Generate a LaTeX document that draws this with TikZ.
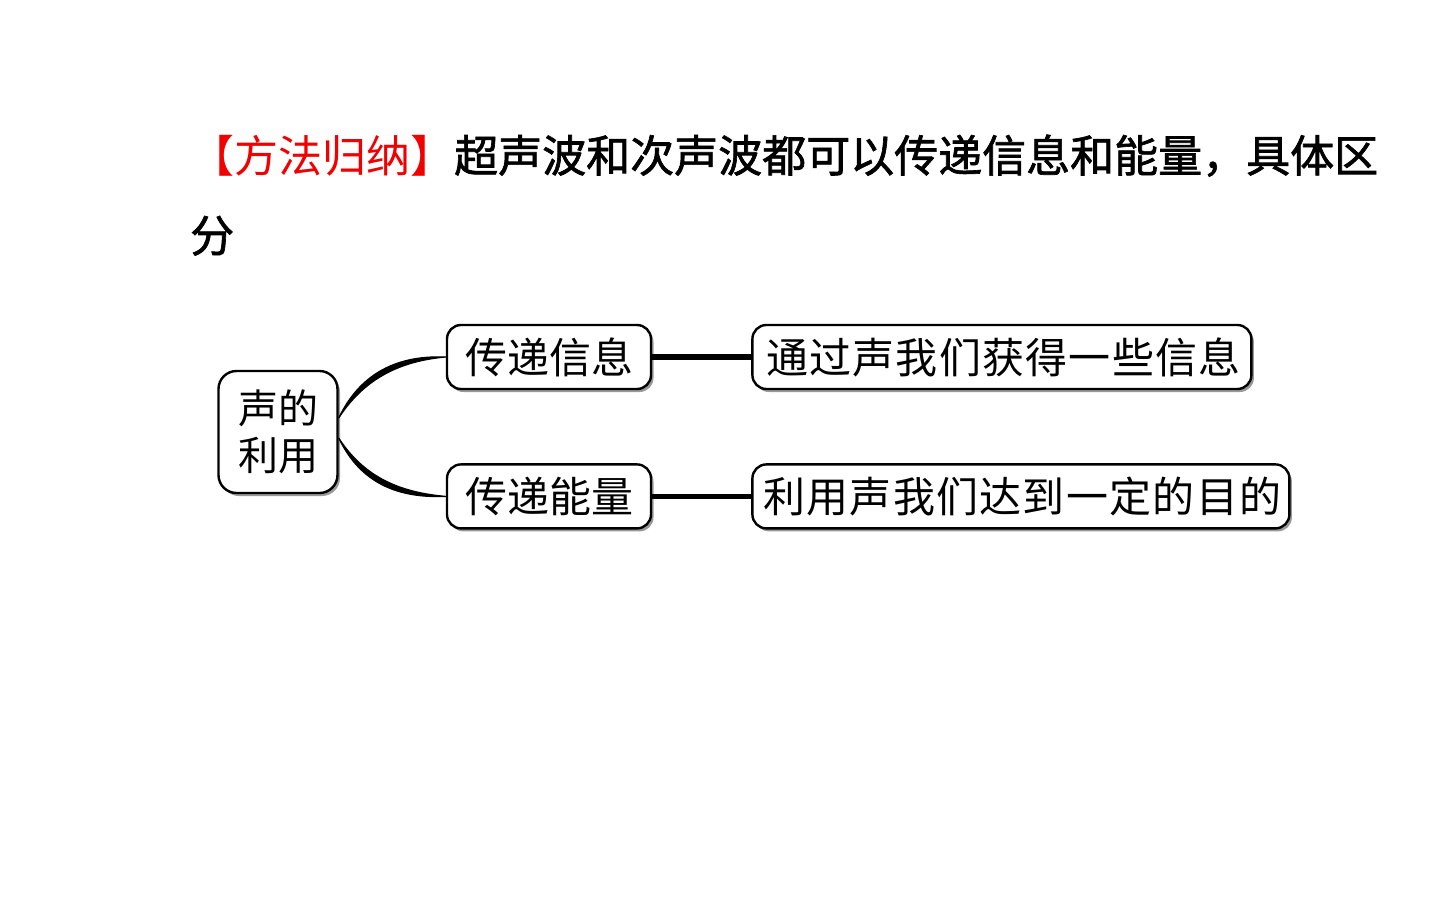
\documentclass[tikz,border=0pt]{standalone}
\usepackage{fontspec}
\usepackage{tikz}
\usetikzlibrary{positioning, shadows}
\setmainfont{Noto Sans CJK SC}
\newfontfamily\cjk{Noto Sans CJK SC}
\newfontfamily\cjkwide[LetterSpace=3]{Noto Sans CJK SC}
\newfontfamily\cjkbold[FakeBold=1.5]{Noto Sans CJK SC}
\definecolor{titlered}{RGB}{240,0,0}

\begin{document}
\begin{tikzpicture}[x=1pt, y=-1pt,
    box/.style={draw, line width=2.4pt, rounded corners=14pt, fill=white, inner sep=0pt, minimum height=64pt,
        drop shadow={shadow xshift=2.5pt, shadow yshift=-3pt, fill=black, opacity=0.4}},
    link/.style={line width=5.5pt},
    branch/.style={fill=black, draw=black, line width=1.2pt}]
    \fill[white] (0,0) rectangle (1440,900);
    \useasboundingbox (0,0) rectangle (1440,900);
    % heading
    \node (title) [anchor=base west, inner sep=0pt, font=\fontsize{44}{44}\selectfont] at (190,172)
        {\cjk\textcolor{titlered}{【方法归纳】}\cjkbold 超声波和次声波都可以传递信息和能量，具体区};
    \node (title2) [anchor=base west, inner sep=0pt, font=\fontsize{44}{44}\cjkbold] at (190,252) {分};
    % map
    \node (root) [box, minimum width=119pt, minimum height=122pt, rounded corners=18pt, align=center,
        font=\fontsize{40}{47}\selectfont] at (278,432) {声的\\利用};
    \node (info) [box, minimum width=204pt, font=\fontsize{42}{42}\selectfont] at (549,357) {传递信息};
    \node (energy) [box, minimum width=204pt, font=\fontsize{42}{42}\selectfont, below=73pt of info] {传递能量};
    \node (infouse) [box, minimum width=499pt, font=\fontsize{42}{42}\cjkwide, right=99pt of info] {\hspace{3pt}通过声我们获得一些信息};
    \node (energyuse) [box, minimum width=537pt, font=\fontsize{42}{42}\cjkwide, right=99pt of energy] {\hspace{3pt}利用声我们达到一定的目的};
    \draw[link] (info) -- (infouse);
    \draw[link] (energy) -- (energyuse);
    \filldraw[branch] ([yshift=14pt]root.east) .. controls +(22,-46) and +(-47,-2) .. (info.west)
        .. controls +(-45,4) and +(26,-40) .. ([yshift=14pt]root.east);
    \filldraw[branch] ([yshift=-6pt]root.east) .. controls +(22,46) and +(-47,2) .. (energy.west)
        .. controls +(-45,-4) and +(26,40) .. ([yshift=-6pt]root.east);
\end{tikzpicture}
\end{document}
